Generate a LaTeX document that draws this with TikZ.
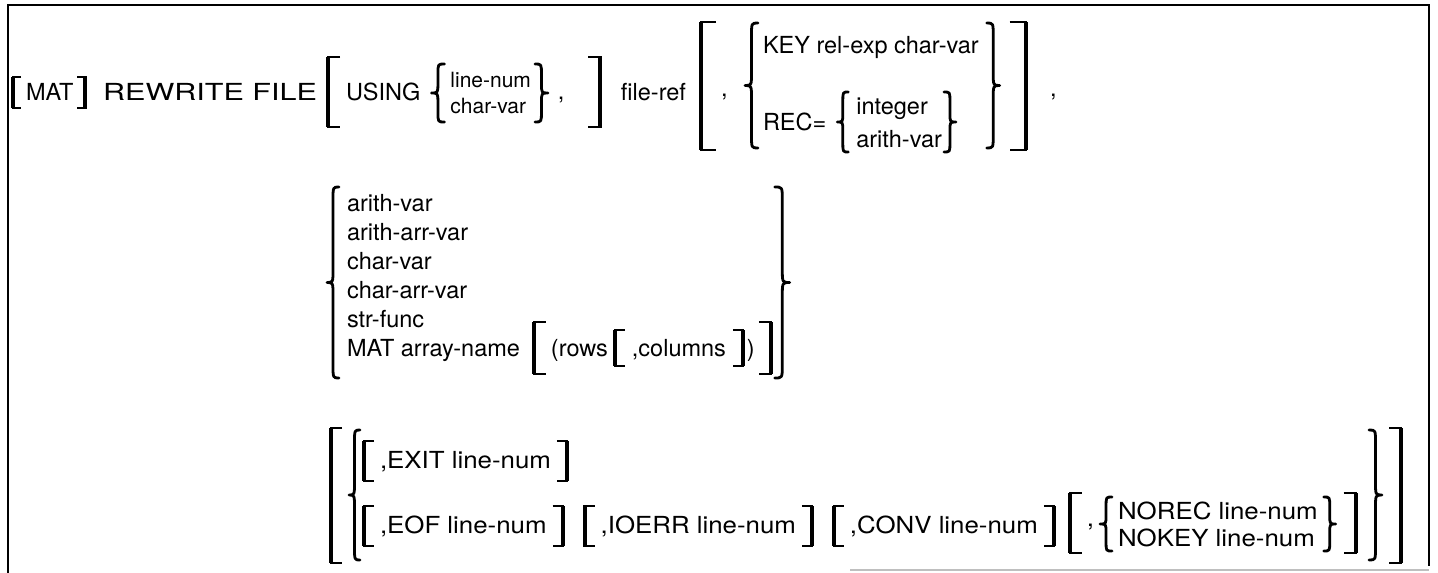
\documentclass[tikz,border=0pt]{standalone}
\usepackage{fontspec}
\newfontfamily\dfont{TeX Gyre Heros}
\newfontfamily\wfont{TeX Gyre Heros}[FakeStretch=1.1]
\newfontfamily\rfont{TeX Gyre Heros}[FakeStretch=1.3]
\usetikzlibrary{calc}
\newcommand\mkLbk[1]{\draw[brk] (#1.north east) -- (#1.north west) -- (#1.south west) -- (#1.south east); \draw[stem] (#1.north west) -- (#1.south west);}
\newcommand\mkRbk[1]{\draw[brk] (#1.north west) -- (#1.north east) -- (#1.south east) -- (#1.south west); \draw[stem] (#1.north east) -- (#1.south east);}
\newcommand\mkLbc[2][8pt]{\draw[brc] (#2.north east) .. controls (#2.north) .. ([yshift=-#1]#2.north) -- ([yshift=#1]#2.center) .. controls (#2.center) .. (#2.west) .. controls (#2.center) .. ([yshift=-#1]#2.center) -- ([yshift=#1]#2.south) .. controls (#2.south) .. (#2.south east);}
\newcommand\mkRbc[2][8pt]{\draw[brc] (#2.north west) .. controls (#2.north) .. ([yshift=-#1]#2.north) -- ([yshift=#1]#2.center) .. controls (#2.center) .. (#2.east) .. controls (#2.center) .. ([yshift=-#1]#2.center) -- ([yshift=#1]#2.south) .. controls (#2.south) .. (#2.south west);}
\begin{document}
\begin{tikzpicture}[x=1pt,y=-1pt,
  txt/.style={inner sep=0pt, outer sep=0pt, anchor=west, font=\dfont\fontsize{23.5}{28}\selectfont, text height=16.9pt, text depth=0pt},
  stxt/.style={txt, font=\dfont\fontsize{21}{25}\selectfont, text height=15.1pt},
  wtxt/.style={txt, font=\wfont\fontsize{23.5}{28}\selectfont},
  rtxt/.style={txt, font=\rfont\fontsize{23.5}{28}\selectfont},
  delim/.style={inner sep=0pt, outer sep=0pt, anchor=west, shape=rectangle},
  brk/.style={line width=2.6pt, line join=miter},
  stem/.style={line width=4pt, line cap=butt},
  brc/.style={line width=2.8pt, line cap=round, line join=round},
  frame/.style={line width=2pt}]
\useasboundingbox (0,0) rectangle (1438,573);
% frame
\draw[frame] (8,573) -- (8,5) -- (1429,5) -- (1429,566);
\draw[gray!50, line width=1.2pt] (850,570) -- (1429,570);

% ---------- row 1
\node[delim, minimum width=8pt, minimum height=31pt] (b1) at (13,92.5) {};
\node[txt, xshift=5pt] (t1) at (b1.east |- 0,92) {MAT};
\node[delim, minimum width=8pt, minimum height=31pt, xshift=4pt] (b2) at (t1.east |- 0,92.5) {};
\node[rtxt, anchor=east] (t2) at (317,92) {REWRITE FILE};
\node[delim, minimum width=12pt, minimum height=70pt] (b3) at (328,92) {};
\node[txt, xshift=6pt] (t3) at (b3.east |- 0,92) {USING};
\node[delim, minimum width=13pt, minimum height=58pt, xshift=11pt] (c1) at (t3.east |- 0,93) {};
\node[stxt, xshift=6pt] (t4) at (c1.east |- 0,80) {line-num};
\node[stxt] (t5) at (t4.west |- 0,106) {char-var};
\node[delim, minimum width=13pt, minimum height=58pt, xshift=4pt] (c2) at (t4.east |- 0,93) {};
\node[txt, xshift=10pt] (k1) at (c2.east |- 0,91) {,};
\node[delim, minimum width=12pt, minimum height=70pt, xshift=24pt] (b4) at (k1.east |- 0,92) {};
\node[txt, anchor=east] (t6) at (686,92) {file-ref};
\node[delim, minimum width=15pt, minimum height=128pt] (b5) at (701,86) {};
\node[txt, xshift=5pt] (k2) at (b5.east |- 0,88) {,};
\node[delim, minimum width=13pt, minimum height=125pt] (c3) at (745,85.5) {};
\node[txt, xshift=5pt] (t7) at (c3.east |- 0,45) {KEY rel-exp char-var};
\node[txt] (t8) at (t7.west |- 0,122) {REC=};
\node[delim, minimum width=11pt, minimum height=60pt, xshift=11pt] (c4) at (t8.east |- 0,122) {};
\node[txt, xshift=8pt] (t9) at (c4.east |- 0,106) {integer};
\node[txt] (t10) at (t9.west |- 0,139) {arith-var};
\node[delim, minimum width=12pt, minimum height=60pt, xshift=2pt] (c5) at (t10.east |- 0,122) {};
\node[delim, minimum width=13pt, minimum height=125pt, xshift=8pt] (c6) at (t7.east |- 0,85.5) {};
\node[delim, minimum width=16pt, minimum height=128pt, xshift=10pt] (b6) at (c6.east |- 0,86) {};
\node[txt] (k3) at (1050,88) {,};
\mkLbk{b1}\mkRbk{b2}\mkLbk{b3}\mkRbk{b4}\mkLbk{b5}\mkRbk{b6}
\mkLbc[10pt]{c1}\mkRbc[10pt]{c2}\mkLbc[13pt]{c3}\mkRbc[13pt]{c6}\mkLbc[9pt]{c4}\mkRbc[9pt]{c5}

% ---------- row 2
\node[delim, minimum width=12pt, minimum height=191pt] (c7) at (327,282.5) {};
\node[txt] (r1) at (347,203) {arith-var};
\node[txt] (r2) at (347,232) {arith-arr-var};
\node[txt] (r3) at (347,261) {char-var};
\node[txt] (r4) at (347,290) {char-arr-var};
\node[txt] (r5) at (347,319) {str-func};
\node[txt] (r6) at (347,348) {MAT array-name};
\node[delim, minimum width=12pt, minimum height=52pt, xshift=14pt] (b7) at (r6.east |- 0,348) {};
\node[txt, xshift=5pt] (r7) at (b7.east |- 0,348) {(rows};
\node[delim, minimum width=10pt, minimum height=36pt, xshift=7pt] (b8) at (r7.east |- 0,348) {};
\node[txt, xshift=7pt] (r8) at (b8.east |- 0,348) {,columns};
\node[delim, minimum width=10pt, minimum height=36pt, xshift=7pt] (b9) at (r8.east |- 0,348) {};
\node[txt, xshift=4pt] (r9) at (b9.east |- 0,348) {)};
\node[delim, minimum width=12pt, minimum height=52pt, xshift=4pt] (b10) at (r9.east |- 0,348) {};
\node[delim, minimum width=15pt, minimum height=191pt, xshift=4pt] (c8) at (b10.east |- 0,282.5) {};
\mkLbc[13pt]{c7}\mkRbc[13pt]{c8}\mkLbk{b7}\mkLbk{b8}\mkRbk{b9}\mkRbk{b10}

% ---------- row 3
\node[delim, minimum width=11pt, minimum height=135pt] (b11) at (331,495.5) {};
\node[delim, minimum width=11pt, minimum height=130pt] (c9) at (349,495) {};
\node[delim, minimum width=10pt, minimum height=40pt] (b12) at (364,461) {};
\node[wtxt, xshift=6pt] (e1) at (b12.east |- 0,460) {,EXIT line-num};
\node[delim, minimum width=10pt, minimum height=40pt, xshift=6pt] (b13) at (e1.east |- 0,461) {};
\node[delim, minimum width=10pt, minimum height=40pt] (b14) at (b12.west |- 0,526) {};
\node[wtxt, xshift=6pt] (e2) at (b14.east |- 0,525) {,EOF line-num};
\node[delim, minimum width=10pt, minimum height=40pt, xshift=6pt] (b15) at (e2.east |- 0,526) {};
\node[delim, minimum width=10pt, minimum height=40pt, xshift=22pt] (b16) at (b15.east |- 0,526) {};
\node[wtxt, xshift=6pt] (e3) at (b16.east |- 0,525) {,IOERR line-num};
\node[delim, minimum width=10pt, minimum height=40pt, xshift=6pt] (b17) at (e3.east |- 0,526) {};
\node[delim, minimum width=10pt, minimum height=40pt, xshift=22pt] (b18) at (b17.east |- 0,526) {};
\node[wtxt, xshift=6pt] (e4) at (b18.east |- 0,525) {,CONV line-num};
\node[delim, minimum width=10pt, minimum height=40pt, xshift=6pt] (b19) at (e4.east |- 0,526) {};
\node[delim, minimum width=12pt, minimum height=60pt, xshift=16pt] (b20) at (b19.east |- 0,523) {};
\node[wtxt, xshift=5pt] (k4) at (b20.east |- 0,518) {,};
\node[delim, minimum width=12pt, minimum height=54pt, xshift=6pt] (c10) at (k4.east |- 0,524) {};
\node[wtxt, xshift=6pt] (e5) at (c10.east |- 0,511) {NOREC line-num};
\node[wtxt] (e6) at (e5.west |- 0,538) {NOKEY line-num};
\node[delim, minimum width=12pt, minimum height=54pt, xshift=6pt] (c11) at (e5.east |- 0,524) {};
\node[delim, minimum width=12pt, minimum height=60pt, xshift=8pt] (b21) at (c11.east |- 0,523) {};
\node[delim, minimum width=13pt, minimum height=130pt] (c12) at (1369,495) {};
\node[delim, minimum width=12pt, minimum height=135pt] (b22) at (1389,495.5) {};
\mkLbk{b11}\mkLbc[13pt]{c9}\mkLbk{b12}\mkRbk{b13}\mkLbk{b14}\mkRbk{b15}\mkLbk{b16}\mkRbk{b17}
\mkLbk{b18}\mkRbk{b19}\mkLbk{b20}\mkLbc[9pt]{c10}\mkRbc[9pt]{c11}\mkRbk{b21}\mkRbc[13pt]{c12}\mkRbk{b22}
\end{tikzpicture}
\end{document}
